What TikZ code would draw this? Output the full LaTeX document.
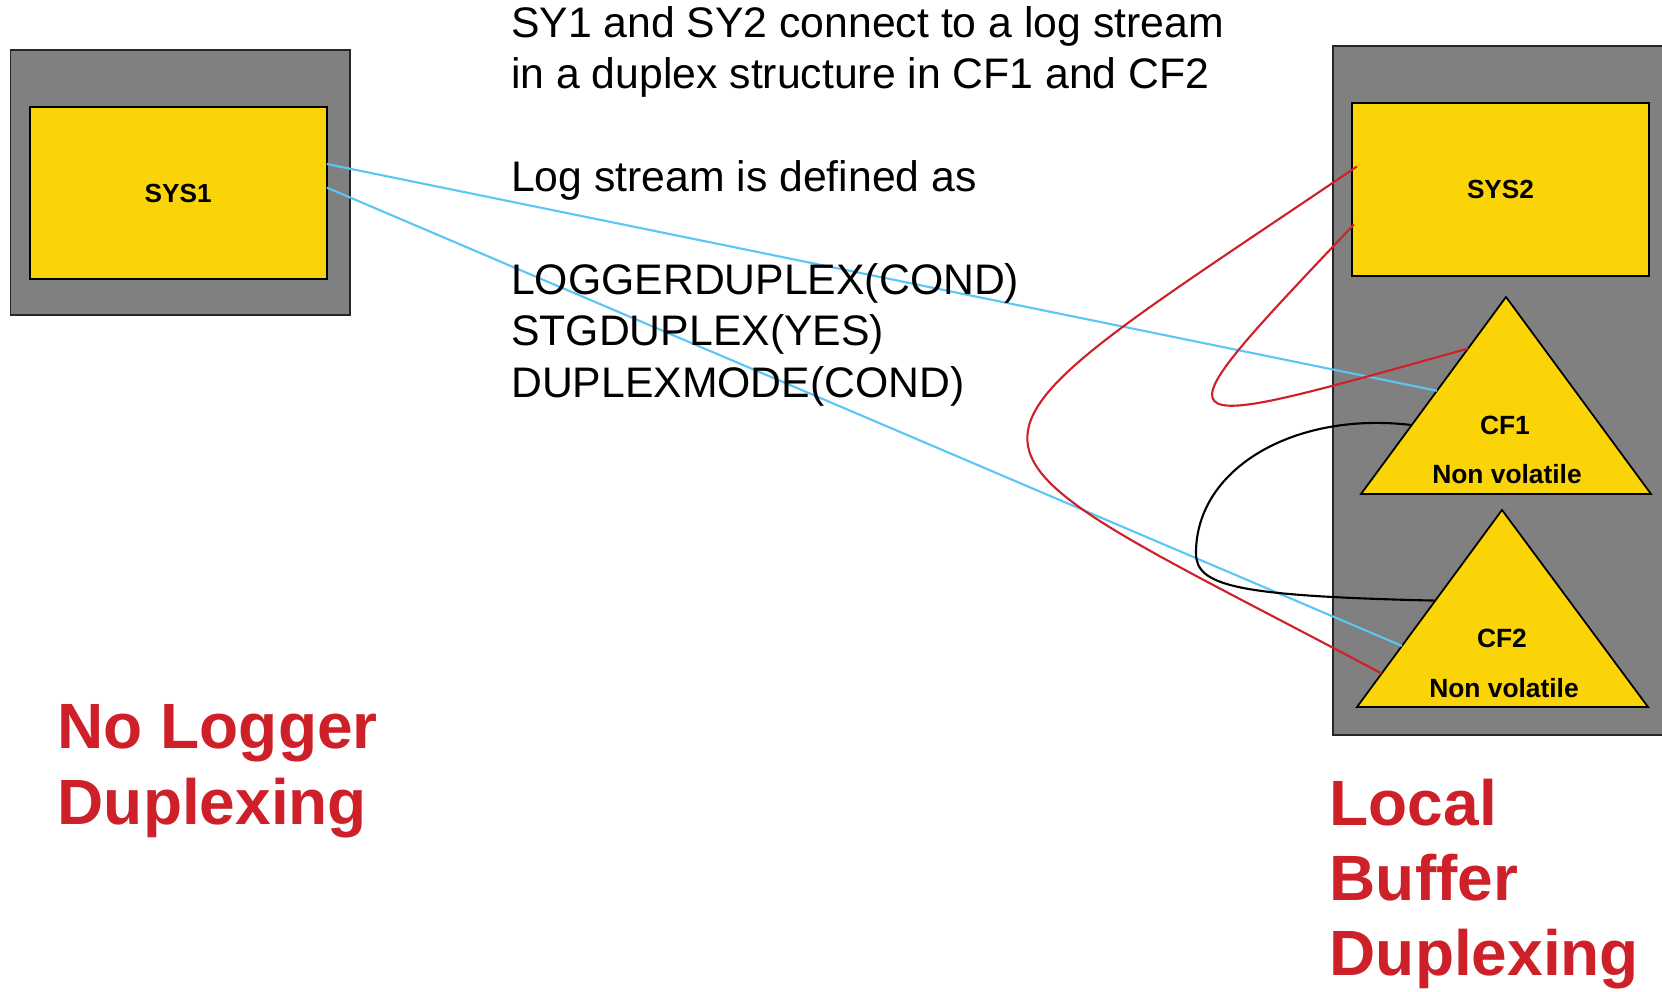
\documentclass[tikz,border=0pt]{standalone}
\usepackage{fontspec}
\setmainfont{Liberation Sans}
\usetikzlibrary{calc}

\definecolor{boxgray}{RGB}{128,128,128}
\definecolor{sysyellow}{RGB}{250,212,6}
\definecolor{linkred}{RGB}{206,32,41}
\definecolor{linkblue}{RGB}{90,198,245}

\begin{document}
\begin{tikzpicture}[x=0.01cm, y=-0.01cm,
  frame/.style={draw=black!85, line width=0.5pt, fill=boxgray, inner sep=0pt, outer sep=0pt},
  sysbox/.style={draw=black, line width=0.6pt, fill=sysyellow, inner sep=0pt, outer sep=0pt,
    font=\fontsize{7.45}{8.9}\selectfont\bfseries},
  cfshape/.style={draw=black, line width=0.5pt, fill=sysyellow},
  cflabel/.style={font=\fontsize{7.5}{9}\selectfont\bfseries, inner sep=0pt},
  note/.style={font=\fontsize{12.15}{14.6}\selectfont, inner sep=0pt, anchor=base west},
  title/.style={text=linkred, font=\fontsize{18.2}{21.5}\selectfont\bfseries, inner sep=0pt, anchor=base west},
  bluelink/.style={draw=linkblue, line width=0.6pt},
  redlink/.style={draw=linkred, line width=0.6pt},
  blacklink/.style={draw=black, line width=0.6pt},
]
\useasboundingbox (0,0) rectangle (1662,992);

% left system
\node[frame, minimum width=3.394cm, minimum height=2.65cm] (hostA) at (180.3,182.5) {};
\node[sysbox, minimum width=2.97cm, minimum height=1.726cm] (sys1) at (178.2,193) {SYS1};

% right system with the two coupling facilities
\node[frame, minimum width=3.4cm, minimum height=6.88cm] (hostB) at (1503,390.5) {};
\node[sysbox, minimum width=2.97cm, minimum height=1.73cm] (sys2) at (1500.5,189.5) {SYS2};

\coordinate (cf1top) at (1506,297);
\coordinate (cf1l) at (1361,494);
\coordinate (cf1r) at (1651,494);
\draw[cfshape] (cf1top) -- (cf1r) -- (cf1l) -- cycle;
\node[cflabel] (cf1) at (1505,425) {CF1};
\node[cflabel] (cf1nv) at (1507,474) {Non volatile};

\coordinate (cf2top) at (1502,510);
\coordinate (cf2l) at (1357,707);
\coordinate (cf2r) at (1648,707);
\draw[cfshape] (cf2top) -- (cf2r) -- (cf2l) -- cycle;
\node[cflabel] (cf2) at (1502,638) {CF2};
\node[cflabel] (cf2nv) at (1504,688) {Non volatile};

% connections from SYS1
\draw[bluelink] ($(sys1.east)+(0,-29)$) -- ($(cf1top)!0.476!(cf1l)$);
\draw[bluelink] ($(sys1.east)+(0,-5.4)$) -- ($(cf2top)!0.69!(cf2l)$);

% connections from SYS2
\draw[redlink] ($(sys2.west)+(5,-23)$) .. controls (909,470) and (918,427) .. ($(cf2top)!0.83!(cf2l)$);
\draw[redlink] ($(sys2.west)+(2,35)$) .. controls (1148,442) and (1150,437) .. ($(cf1top)!0.262!(cf1l)$);

% duplexing link between CF1 and CF2
\coordinate (loopw) at (1196,553);
\draw[blacklink] ($(cf1top)!0.65!(cf1l)$) .. controls (1295,411) and (1196,468) .. (loopw)
  .. controls (1196,586) and (1235,596) .. ($(cf2top)!0.46!(cf2l)$);

% description
\node[note] (n1) at (510.5,37.5) {SY1 and SY2 connect to a log stream};
\node[note] (n2) at (510.5,88.9) {in a duplex structure in CF1 and CF2};
\node[note] (n3) at (510.5,191.6) {Log stream is defined as};
\node[note] (n4) at (510.5,294.4) {LOGGERDUPLEX(COND)};
\node[note] (n5) at (510.5,345.8) {STGDUPLEX(YES)};
\node[note] (n6) at (510.5,397.1) {DUPLEXMODE(COND)};

% headings
\node[title] (t1) at (57,749) {No Logger};
\node[title] (t2) at (57,825) {Duplexing};
\node[title] (t3) at (1329,826) {Local};
\node[title] (t4) at (1329,901) {Buffer};
\node[title] (t5) at (1329,976) {Duplexing};
\end{tikzpicture}
\end{document}
